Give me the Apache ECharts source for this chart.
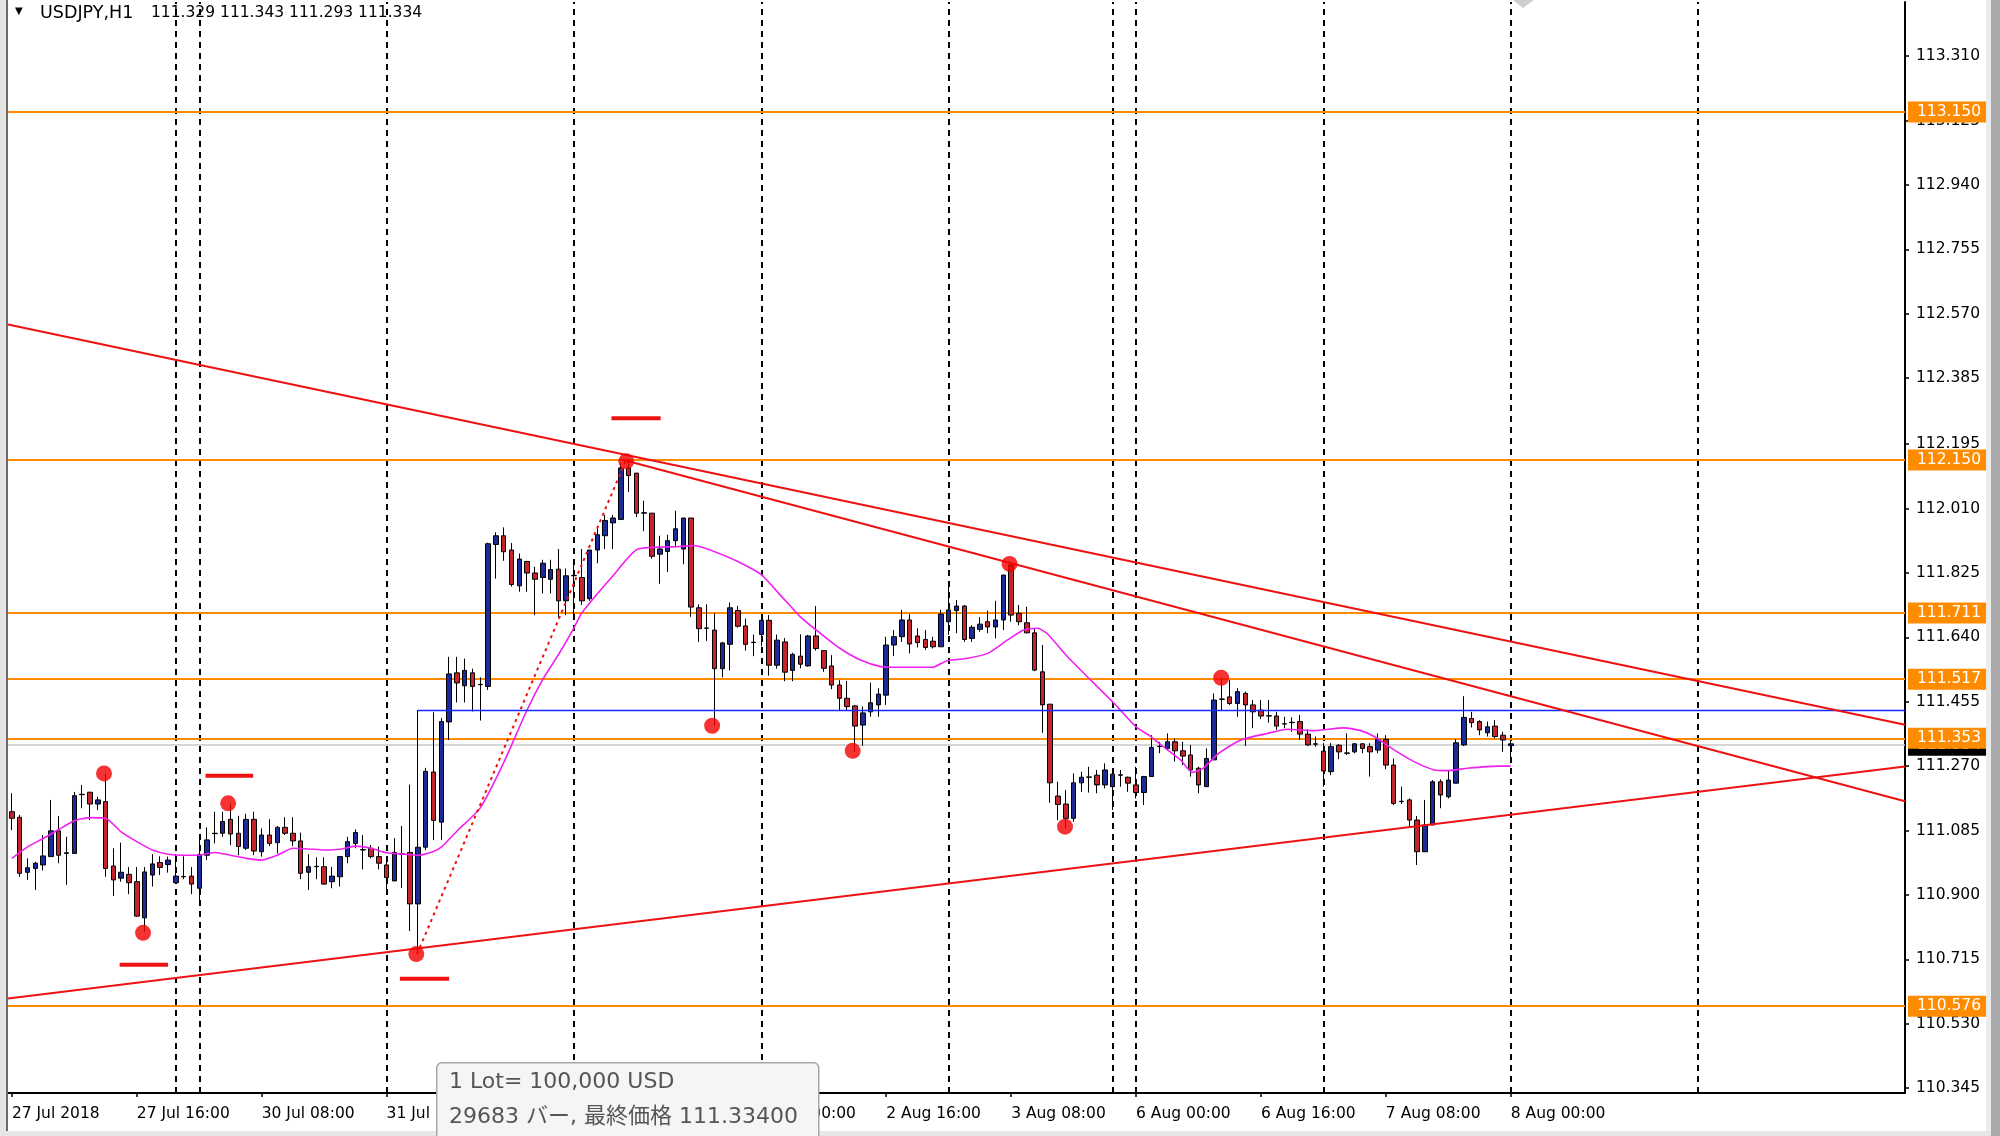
<!DOCTYPE html>
<html><head><meta charset="utf-8">
<script src="https://cdn.jsdelivr.net/npm/echarts@6/dist/echarts.min.js"></script>
<style>html,body{margin:0;padding:0;background:#fff}#c{width:2000px;height:1136px}</style>
</head><body><div id="c"></div>
<script>
// ---------------- data ----------------
const symbolName = 'USDJPY,H1';
const tradingDays = ['27 Jul','30 Jul','31 Jul','1 Aug','2 Aug','3 Aug','6 Aug','7 Aug','8 Aug','9 Aug','10 Aug'];
const categoryCount = 243;
const xTickLabels = ['27 Jul 2018','27 Jul 16:00','30 Jul 08:00','31 Jul 00:00','31 Jul 16:00','1 Aug 08:00',
  '2 Aug 00:00','2 Aug 16:00','3 Aug 08:00','6 Aug 00:00','6 Aug 16:00','7 Aug 08:00','8 Aug 00:00'];
const yTickLabels = ['110.345','110.530','110.715','110.900','111.085','111.270','111.455','111.640','111.825',
  '112.010','112.195','112.385','112.570','112.755','112.940','113.125','113.310'];

const opens = [111.139,111.123,110.965,110.976,110.986,111.010,111.084,111.019,111.019,111.188,
111.195,111.161,111.168,110.983,110.948,110.959,110.938,110.834,110.957,110.993,
110.987,110.935,110.952,110.954,110.919,111.014,111.076,111.077,111.117,111.077,
111.034,111.117,111.024,111.072,111.050,111.094,111.077,111.055,110.965,110.981,
110.981,110.938,110.952,111.010,111.048,111.029,111.034,111.010,110.986,110.940,
111.017,111.022,110.874,111.037,111.253,111.109,111.397,111.538,111.501,111.538,
111.504,111.499,111.907,111.932,111.891,111.788,111.858,111.825,111.812,111.807,
111.836,111.745,111.817,111.812,111.751,111.891,111.932,111.969,111.979,112.127,
112.112,111.997,111.997,111.879,111.887,111.918,111.894,111.983,111.725,111.666,
111.661,111.550,111.620,111.717,111.673,111.625,111.648,111.689,111.560,111.627,
111.545,111.586,111.558,111.644,111.602,111.558,111.503,111.465,111.443,111.388,
111.426,111.446,111.474,111.618,111.642,111.690,111.644,111.634,111.629,111.613,
111.685,111.717,111.730,111.637,111.663,111.685,111.670,111.690,111.848,111.709,
111.682,111.653,111.541,111.448,111.184,111.161,111.120,111.222,111.238,111.244,
111.216,111.211,111.244,111.238,111.216,111.194,111.240,111.326,111.321,111.340,
111.314,111.302,111.264,111.211,111.288,111.462,111.469,111.450,111.479,111.446,
111.431,111.414,111.414,111.391,111.395,111.398,111.362,111.333,111.313,111.254,
111.330,111.307,111.311,111.334,111.326,111.316,111.347,111.273,111.168,111.173,
111.115,111.024,111.101,111.225,111.182,111.221,111.331,111.407,111.398,111.366,
111.385,111.359,111.329];
const highs = [111.192,111.130,111.005,110.995,111.072,111.173,111.127,111.067,111.196,111.216,
111.196,111.182,111.249,111.034,111.050,110.980,110.980,110.980,111.017,111.011,
111.010,111.017,111.011,110.980,111.058,111.094,111.139,111.139,111.163,111.127,
111.133,111.139,111.091,111.117,111.098,111.123,111.123,111.079,111.017,111.008,
111.008,110.980,111.010,111.067,111.088,111.072,111.043,111.039,111.012,111.063,
111.098,111.217,111.431,111.265,111.425,111.408,111.584,111.584,111.579,111.550,
111.525,111.912,111.942,111.956,111.911,111.881,111.860,111.843,111.863,111.863,
111.894,111.838,111.863,111.894,111.891,111.961,111.992,111.992,112.141,112.151,
112.112,112.033,111.997,111.932,111.935,112.004,111.983,111.983,111.735,111.735,
111.709,111.627,111.740,111.730,111.694,111.648,111.706,111.704,111.648,111.638,
111.596,111.649,111.647,111.730,111.602,111.589,111.517,111.515,111.446,111.441,
111.510,111.494,111.642,111.661,111.719,111.707,111.666,111.661,111.642,111.719,
111.795,111.747,111.733,111.675,111.698,111.717,111.745,111.820,111.855,111.733,
111.728,111.666,111.618,111.448,111.225,111.201,111.249,111.254,111.268,111.259,
111.278,111.264,111.259,111.240,111.268,111.242,111.359,111.340,111.364,111.350,
111.340,111.331,111.268,111.321,111.479,111.522,111.517,111.494,111.484,111.460,
111.460,111.460,111.426,111.412,111.410,111.417,111.376,111.355,111.336,111.336,
111.334,111.364,111.336,111.336,111.336,111.364,111.359,111.292,111.211,111.177,
111.127,111.173,111.230,111.232,111.259,111.347,111.471,111.426,111.402,111.398,
111.402,111.369,111.343];
const lows = [111.086,110.952,110.943,110.914,110.970,111.010,110.991,110.929,111.019,111.149,
111.115,111.144,110.952,110.897,110.938,110.902,110.837,110.794,110.924,110.957,
110.964,110.933,110.945,110.902,110.876,111.000,111.048,111.067,111.043,111.014,
111.029,111.014,111.010,111.040,111.019,111.072,111.040,110.945,110.914,110.945,
110.929,110.919,110.924,110.991,111.034,110.973,111.005,110.973,110.900,110.940,
110.920,110.796,110.730,111.029,111.058,111.058,111.345,111.453,111.453,111.427,
111.401,111.489,111.809,111.860,111.786,111.771,111.771,111.704,111.766,111.766,
111.697,111.704,111.704,111.733,111.745,111.853,111.894,111.894,111.979,112.058,
111.986,111.945,111.866,111.794,111.828,111.899,111.850,111.699,111.627,111.630,
111.386,111.525,111.545,111.668,111.602,111.586,111.614,111.530,111.550,111.514,
111.514,111.551,111.556,111.602,111.541,111.491,111.431,111.431,111.311,111.328,
111.412,111.412,111.446,111.586,111.627,111.594,111.611,111.604,111.608,111.613,
111.647,111.652,111.627,111.627,111.656,111.652,111.637,111.661,111.685,111.675,
111.652,111.543,111.366,111.165,111.115,111.091,111.110,111.196,111.194,111.192,
111.206,111.144,111.211,111.196,111.177,111.158,111.240,111.307,111.316,111.283,
111.273,111.240,111.192,111.211,111.288,111.431,111.446,111.412,111.328,111.379,
111.405,111.395,111.374,111.379,111.369,111.345,111.328,111.326,111.211,111.244,
111.290,111.302,111.307,111.307,111.240,111.307,111.261,111.158,111.161,111.096,
110.986,111.024,111.101,111.149,111.177,111.221,111.328,111.381,111.359,111.355,
111.350,111.311,111.293];
const closes = [111.120,110.962,110.978,110.991,111.012,111.084,111.014,111.021,111.185,111.189,
111.161,111.173,110.976,110.943,110.965,110.935,110.839,110.966,110.989,110.979,
111.000,110.954,110.953,110.931,111.016,111.058,111.077,111.111,111.075,111.039,
111.117,111.026,111.072,111.048,111.094,111.077,111.055,110.962,110.981,110.982,
110.931,110.954,111.010,111.053,111.079,111.030,111.010,110.991,110.950,111.022,
111.018,110.874,111.037,111.255,111.114,111.398,111.535,111.509,111.545,111.499,
111.505,111.909,111.932,111.886,111.792,111.865,111.825,111.807,111.853,111.835,
111.745,111.817,111.818,111.745,111.891,111.935,111.976,111.983,112.127,112.105,
111.997,111.998,111.873,111.894,111.918,111.952,111.983,111.727,111.665,111.667,
111.550,111.624,111.725,111.672,111.620,111.626,111.689,111.560,111.632,111.540,
111.591,111.563,111.644,111.608,111.551,111.503,111.465,111.441,111.385,111.423,
111.452,111.477,111.618,111.642,111.690,111.621,111.625,111.611,111.613,111.707,
111.719,111.730,111.634,111.669,111.678,111.670,111.690,111.819,111.704,111.685,
111.653,111.546,111.446,111.222,111.160,111.120,111.222,111.238,111.239,111.216,
111.259,111.247,111.245,111.221,111.194,111.240,111.324,111.327,111.340,111.314,
111.299,111.259,111.216,111.292,111.460,111.463,111.450,111.484,111.446,111.426,
111.414,111.415,111.385,111.392,111.396,111.362,111.331,111.334,111.256,111.326,
111.311,111.308,111.334,111.321,111.311,111.347,111.273,111.163,111.169,111.115,
111.024,111.101,111.225,111.187,111.230,111.337,111.410,111.395,111.374,111.383,
111.355,111.345,111.334];

// moving average (magenta): [bar index, price]
const maPoints = [[0,111.005],[2,111.038],[4,111.062],[6,111.088],[8,111.113],[10,111.122],[12,111.120],
[14,111.081],[16,111.053],[18,111.029],[20,111.017],[22,111.014],[24,111.014],[26,111.022],[28,111.014],
[30,111.005],[32,111.000],[34,111.014],[36,111.034],[38,111.032],[40,111.029],[42,111.031],[44,111.040],
[46,111.034],[48,111.021],[50,111.017],[52,111.014],[54,111.025],[55,111.037],[57,111.083],[60,111.150],
[63,111.280],[65.9,111.427],[68,111.519],[70,111.590],[71.9,111.663],[73,111.710],[77,111.817],
[80.2,111.894],[85.6,111.901],[87.3,111.904],[92,111.868],[95.9,111.822],[98.5,111.760],[101,111.699],
[103.6,111.651],[106.1,111.608],[108.7,111.575],[111.3,111.556],[113.4,111.554],[117.9,111.554],
[119.8,111.573],[122.4,111.580],[125,111.594],[127.5,111.632],[129.6,111.661],[131.4,111.666],
[132.6,111.651],[135.2,111.585],[138.2,111.517],[141.2,111.450],[144,111.383],[145.9,111.355],
[147.2,111.331],[149.7,111.288],[151.2,111.252],[152.5,111.262],[154.6,111.307],[157.4,111.345],
[160.8,111.364],[163.4,111.376],[166.8,111.372],[170.6,111.380],[172.8,111.372],[174.5,111.355],
[177.1,111.316],[179.6,111.283],[182.2,111.259],[183.9,111.257],[186.5,111.264],[190.3,111.270],[192,111.270]];

const levelPrices = [113.150, 112.150, 111.711, 111.517, 111.353, 110.576];
const lastPrice = 111.334;
const fibStartIndex = 52;
const fibLevelPrice = 111.430;
const fibLevelLabel = '50.0';
const separatorIndexes = [21, 24, 48, 72, 96, 120, 141, 144, 168, 192, 216];
const trendUpper = [[-0.5, 112.539], [242.5, 111.389]];
const trendMiddle = [[78, 112.152], [242.5, 111.169]];
const trendLower = [[-0.5, 110.602], [242.5, 111.269]];
const fibTrend = [[51.9, 110.730], [78.6, 112.146]];
const swingDots = [[11.8,111.249],[16.8,110.791],[27.7,111.163],[51.8,110.730],[78.7,112.146],
  [89.7,111.386],[107.7,111.314],[127.8,111.851],[134.9,111.096],[154.9,111.524]];
const markDashes = [[13.8,20.0,110.699],[24.8,30.9,111.242],[49.7,56.0,110.659],[76.8,83.1,112.270]];
const lotText = '1 Lot= 100,000 USD';
const barTotal = 29683;

// ---------------- build ----------------
const categories = [];
for (const d of tradingDays) for (let h = 0; h < 24; h++) categories.push(d + ' ' + String(h).padStart(2,'0') + ':00');
categories.length = categoryCount;
const candleData = opens.map((o, i) => [o, closes[i], lows[i], highs[i]]);
const yTickValues = yTickLabels.map(Number);
const last = opens.length - 1;
const FONT = 'DejaVu Sans';
const RED = '#ee1111';
const isTick = idx => idx % 16 === 0 && idx / 16 < xTickLabels.length;
const priceLabel = (bg) => ({ show: true, position: 'end', distance: 3, formatter: p => p.name,
  color: '#fff', backgroundColor: bg, padding: [3, 9, 3, 9], fontSize: 15.5, fontFamily: FONT, lineHeight: 15 });

const series = [
  { // separators
    type: 'line', xAxisIndex: 1, data: [], z: 1, silent: true,
    markLine: { symbol: 'none', silent: true, animation: false, label: { show: false },
      lineStyle: { color: '#000', width: 2, type: [6, 5] },
      data: separatorIndexes.map(v => ({ xAxis: v })) }
  },
  { // current price line
    type: 'line', xAxisIndex: 1, data: [], z: 2, silent: true,
    markLine: { symbol: 'none', silent: true, animation: false,
      lineStyle: { color: '#c8c8c8', width: 1.5, type: 'solid' },
      label: priceLabel('#000'),
      data: [{ yAxis: lastPrice, name: lastPrice.toFixed(3) }] }
  },
  { // orange levels
    type: 'line', xAxisIndex: 1, data: [], z: 3, silent: true,
    markLine: { symbol: 'none', silent: true, animation: false,
      lineStyle: { color: '#ff8c00', width: 2, type: 'solid' },
      label: priceLabel('#ff8c00'),
      data: levelPrices.map(v => ({ yAxis: v, name: v.toFixed(3) })) }
  },
  {
    type: 'candlestick', xAxisIndex: 0, yAxisIndex: 0, data: candleData, barWidth: 5, z: 5,
    itemStyle: { color: '#1b2a96', color0: '#c4242a', borderColor: '#000', borderColor0: '#000',
      borderColorDoji: '#000', borderWidth: 1 }
  },
  {
    type: 'line', xAxisIndex: 1, data: maPoints, symbol: 'none', smooth: 0.2, z: 6,
    lineStyle: { color: '#f020f0', width: 1.6 }
  },
  { // fib level line
    type: 'line', xAxisIndex: 1, symbol: 'none', z: 6,
    lineStyle: { color: '#1428ff', width: 1.6 },
    data: [[fibStartIndex, fibLevelPrice], { value: [242.5, fibLevelPrice],
      label: { show: true, position: 'top', align: 'right', offset: [-4, 2], formatter: fibLevelLabel,
        color: '#1428ff', fontSize: 16, fontFamily: FONT } }]
  },
  { type: 'line', xAxisIndex: 1, symbol: 'none', z: 7, data: trendUpper, lineStyle: { color: RED, width: 2 } },
  { type: 'line', xAxisIndex: 1, symbol: 'none', z: 7, data: trendMiddle, lineStyle: { color: RED, width: 2 } },
  { type: 'line', xAxisIndex: 1, symbol: 'none', z: 7, data: trendLower, lineStyle: { color: RED, width: 2 } },
  { type: 'line', xAxisIndex: 1, symbol: 'none', z: 7, data: fibTrend, lineStyle: { color: RED, width: 2, type: [3, 4] } },
  ...markDashes.map(d => ({ type: 'line', xAxisIndex: 1, symbol: 'none', z: 7,
      data: [[d[0], d[2]], [d[1], d[2]]], lineStyle: { color: RED, width: 4 } })),
  { type: 'scatter', xAxisIndex: 1, z: 8, data: swingDots, symbolSize: 16, itemStyle: { color: '#f40000' } }
];

const chart = echarts.init(document.getElementById('c'), null, { renderer: 'canvas' });
chart.setOption({
  animation: false,
  backgroundColor: '#fff',
  grid: { left: 8, right: 95, top: 2, bottom: 43 },
  xAxis: [
    { type: 'category', data: categories, boundaryGap: true,
      axisLine: { onZero: false, lineStyle: { color: '#000', width: 2 } },
      axisTick: { show: true, alignWithLabel: true, interval: isTick, length: 4, lineStyle: { color: '#000', width: 1.5 } },
      axisLabel: { interval: isTick, formatter: (v, i) => xTickLabels[i / 16], align: 'left', margin: 13,
        color: '#000', fontSize: 15.5, fontFamily: FONT },
      splitLine: { show: false } },
    { type: 'value', min: -0.5, max: 242.5, show: false }
  ],
  yAxis: { type: 'value', position: 'right', min: 110.3307, max: 113.4658,
    axisLine: { show: true, onZero: false, lineStyle: { color: '#000', width: 2 } },
    axisTick: { show: true, length: 4, customValues: yTickValues, lineStyle: { color: '#000', width: 1.5 } },
    axisLabel: { customValues: yTickValues, formatter: v => v.toFixed(3), margin: 11, color: '#000',
      fontSize: 15.5, fontFamily: FONT },
    splitLine: { show: false } },
  series: series,
  graphic: [
    { type: 'rect', left: 0, top: 0, z: 50, shape: { width: 7, height: 1136 }, style: { fill: '#e4e4e4' } },
    { type: 'rect', left: 6, top: 0, z: 50, shape: { width: 2, height: 1136 }, style: { fill: '#6a6a6a' } },
    { type: 'rect', left: 1986, top: 0, z: 50, shape: { width: 5, height: 1136 }, style: { fill: '#ececec' } },
    { type: 'rect', left: 1991, top: 0, z: 50, shape: { width: 9, height: 1136 }, style: { fill: '#a9a9a9' } },
    { type: 'rect', left: 0, top: 1131, z: 50, shape: { width: 1991, height: 5 }, style: { fill: '#e6e6e6' } },
    { type: 'polygon', z: 50, shape: { points: [[1513, 0], [1534, 0], [1523, 8]] }, style: { fill: '#cfcfcf' } },
    { type: 'text', left: 15, top: 6, z: 60, style: { text: '▼', fontSize: 10, fontFamily: FONT, fill: '#000' } },
    { type: 'text', left: 40, top: 4, z: 60, style: { text: symbolName, fontSize: 17.5, fontFamily: FONT, fill: '#000' } },
    { type: 'text', left: 151, top: 5, z: 60, style: {
      text: [opens[last], highs[last], lows[last], closes[last]].map(v => v.toFixed(3)).join(' '),
      fontSize: 15.5, fontFamily: FONT, fill: '#000' } },
    { type: 'rect', left: 436, top: 1062, z: 70, shape: { width: 382, height: 90, r: 5 },
      style: { fill: '#f5f5f5', stroke: '#a8a8a8', lineWidth: 1.5 } },
    { type: 'text', left: 449, top: 1071, z: 71, style: { text: lotText, fontSize: 22, fontFamily: FONT + ', Noto Sans CJK JP', fill: '#555' } },
    { type: 'text', left: 449, top: 1106, z: 71, style: {
      text: barTotal + ' バー, 最終価格 ' + closes[last].toFixed(5), fontSize: 22, fontFamily: FONT + ', Noto Sans CJK JP', fill: '#555' } }
  ]
});
</script>
</body></html>
